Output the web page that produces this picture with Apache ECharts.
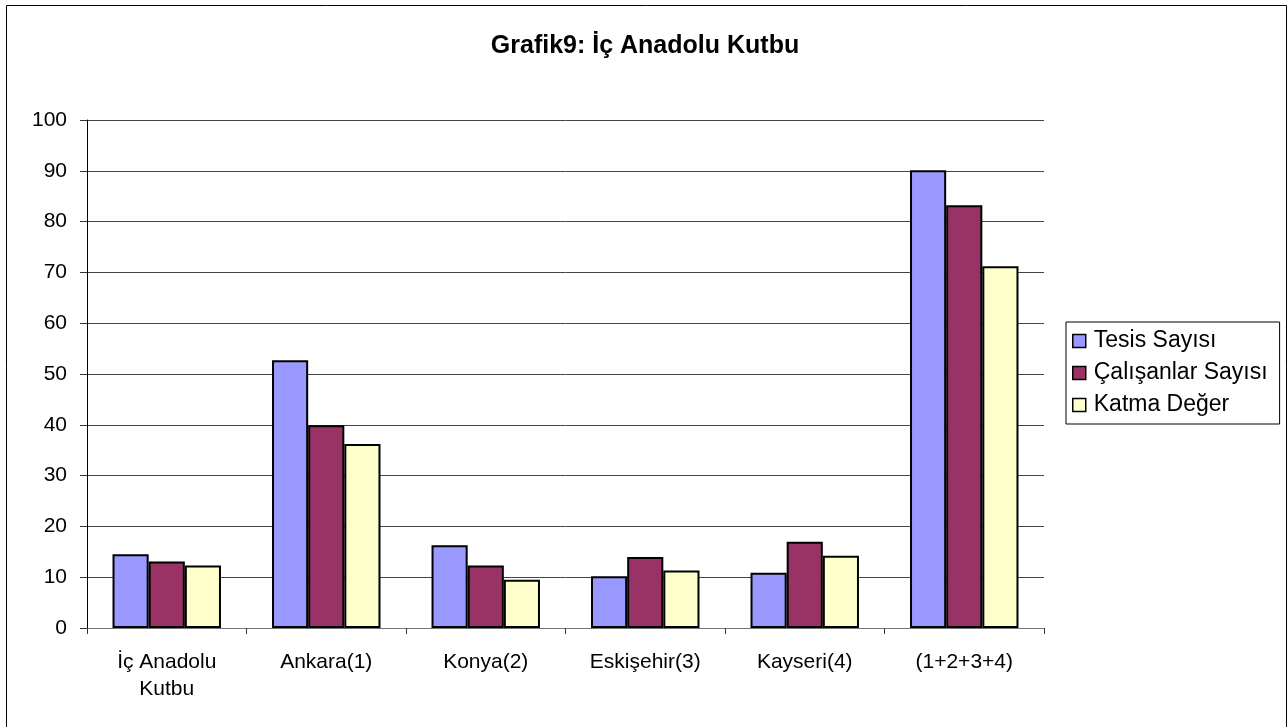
<!DOCTYPE html>
<html>
<head>
<meta charset="utf-8">
<script src="https://cdn.jsdelivr.net/npm/echarts@6/dist/echarts.min.js"></script>
<style>
  html, body { margin: 0; padding: 0; background: #fff; }
  #chart { width: 1288px; height: 727px; }
</style>
</head>
<body>
<div id="chart"></div>
<script>
const categories = ['İç Anadolu\nKutbu', 'Ankara(1)', 'Konya(2)', 'Eskişehir(3)', 'Kayseri(4)', '(1+2+3+4)'];
const tesisSayisi = [14.5, 52.7, 16.3, 10.2, 10.9, 90.1];
const calisanlarSayisi = [13.1, 39.9, 12.3, 14.0, 17.0, 83.2];
const katmaDeger = [12.3, 36.2, 9.5, 11.3, 14.2, 71.2];
const yTicks = { min: 0, max: 100, interval: 10 };

const font = 'Liberation Sans, Arial, sans-serif';
const chart = echarts.init(document.getElementById('chart'));

function bar(name, data, color) {
    return {
        name: name,
        type: 'bar',
        data: data,
        barGap: '0%',
        barCategoryGap: '32%',
        itemStyle: { color: color, borderColor: '#000', borderWidth: 2 }
    };
}

chart.setOption({
    animation: false,
    backgroundColor: '#fff',
    textStyle: { fontFamily: font },
    title: {
        text: 'Grafik9: İç Anadolu Kutbu',
        left: 640,
        top: 29,
        textAlign: 'center',
        textStyle: { fontSize: 25, fontWeight: 'bold', color: '#000', fontFamily: font }
    },
    graphic: [{
        type: 'rect',
        shape: { x: 6.5, y: 5.5, width: 1280, height: 740 },
        style: { fill: 'none', stroke: '#000', lineWidth: 1 },
        silent: true
    }],
    legend: {
        orient: 'vertical',
        left: 1066,
        top: 322,
        padding: [7, 12, 7, 6],
        itemGap: 8,
        itemWidth: 13,
        itemHeight: 13,
        icon: 'rect',
        borderColor: '#000',
        borderWidth: 1,
        itemStyle: { borderColor: '#000', borderWidth: 1.5 },
        textStyle: { fontSize: 23, lineHeight: 24, color: '#000', fontFamily: font, padding: [0, 0, 0, 3] },
        data: ['Tesis Sayısı', 'Çalışanlar Sayısı', 'Katma Değer']
    },
    grid: { left: 87, right: 244, top: 120, bottom: 99 },
    xAxis: {
        type: 'category',
        data: categories,
        axisLine: { lineStyle: { color: '#777', width: 1 } },
        axisTick: { show: true, length: 6, lineStyle: { color: '#333' } },
        axisLabel: { fontSize: 21, color: '#000', margin: 21, lineHeight: 27, fontFamily: font }
    },
    yAxis: {
        type: 'value',
        min: yTicks.min,
        max: yTicks.max,
        interval: yTicks.interval,
        axisLine: { show: true, lineStyle: { color: '#000', width: 1 } },
        axisTick: { show: true, length: 7, lineStyle: { color: '#333' } },
        axisLabel: { fontSize: 21, color: '#000', margin: 20, fontFamily: font },
        splitLine: { lineStyle: { color: '#444', width: 1 } }
    },
    series: [
        bar('Tesis Sayısı', tesisSayisi, '#9999FF'),
        bar('Çalışanlar Sayısı', calisanlarSayisi, '#993366'),
        bar('Katma Değer', katmaDeger, '#FFFFCC')
    ]
});
</script>
</body>
</html>
